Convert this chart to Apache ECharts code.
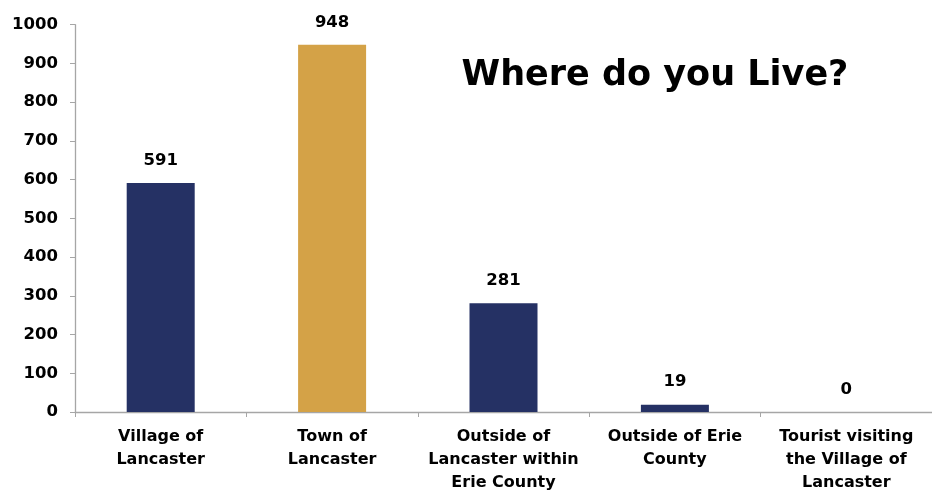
<!DOCTYPE html>
<html><head><meta charset="utf-8">
<script src="https://cdn.jsdelivr.net/npm/echarts@6/dist/echarts.min.js"></script>
<style>html,body{margin:0;padding:0;background:#fff}#c{width:932px;height:494px}</style>
</head><body><div id="c"></div>
<script>
const categories = ["Village of\nLancaster", "Town of\nLancaster", "Outside of\nLancaster within\nErie County", "Outside of Erie\nCounty", "Tourist visiting\nthe Village of\nLancaster"];
const values = [591, 948, 281, 19, 0];
const barColors = ["#253164", "#D4A247", "#253164", "#253164", "#253164"];
const titleText = "Where do you Live?";
const FONT = "DejaVu Sans";
const chart = echarts.init(document.getElementById('c'));
chart.setOption({
  animation: false,
  title: { text: titleText, left: 650, top: 53, textAlign: 'center',
    textStyle: { fontFamily: FONT, fontSize: 35, fontWeight: 'bold', color: '#000' } },
  grid: { left: 75, right: -5, top: 24.7, bottom: 76, containLabel: false },
  xAxis: { type: 'category', data: categories,
    axisLine: { lineStyle: { color: '#a6a6a6', width: 1.3 } },
    axisTick: { show: true, length: 5, lineStyle: { color: '#a6a6a6' } },
    axisLabel: { margin: 13, interval: 0, fontFamily: FONT, fontSize: 16, fontWeight: 'bold', color: '#000', lineHeight: 23 } },
  yAxis: { type: 'value', min: 0, max: 1000, interval: 100,
    splitLine: { show: false },
    axisLine: { show: true, lineStyle: { color: '#a6a6a6', width: 1.3 } },
    axisTick: { show: true, length: 5, lineStyle: { color: '#a6a6a6' } },
    axisLabel: { margin: 17, fontFamily: FONT, fontSize: 16.5, fontWeight: 'bold', color: '#000', formatter: v => String(v) } },
  series: [{ type: 'bar', barWidth: 68,
    data: values.map((v, i) => ({ value: v, itemStyle: { color: barColors[i] } })),
    label: { show: true, position: 'top', distance: 14, fontFamily: FONT, fontSize: 16.5, fontWeight: 'bold', color: '#000' } }]
});
</script></body></html>
